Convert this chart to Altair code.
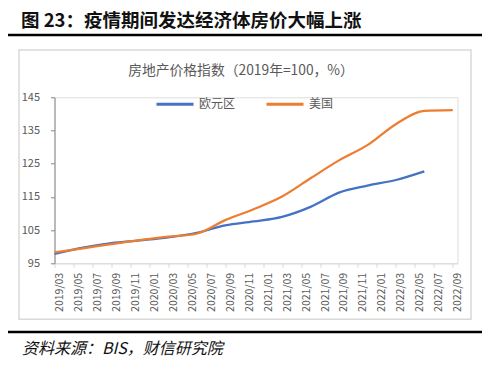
import altair as alt
import pandas as pd
import json

# ---- data (quarterly points, month index from 2019/03) ----
quarters = ["2019/03", "2019/06", "2019/09", "2019/12", "2020/03", "2020/06", "2020/09",
            "2020/12", "2021/03", "2021/06", "2021/09", "2021/12", "2022/03", "2022/06", "2022/09"]
euro = [97.8, 99.7, 101.1, 101.9, 102.8, 104.2, 106.4, 107.6, 109.0, 112.0, 116.3, 118.4, 120.1, 122.7]
usa = [98.3, 99.5, 100.8, 102.0, 103.0, 103.9, 108.0, 111.3, 115.1, 120.6, 126.0, 130.6, 136.9, 140.9, 141.1]
tick_labels = ["2019/03", "2019/05", "2019/07", "2019/09", "2019/11", "2020/01", "2020/03",
               "2020/05", "2020/07", "2020/09", "2020/11", "2021/01", "2021/03", "2021/05",
               "2021/07", "2021/09", "2021/11", "2022/01", "2022/03", "2022/05", "2022/07", "2022/09"]
series_names = ["欧元区", "美国"]
series_colors = ["#4472C4", "#ED7D31"]

def month_index(s):
    y, m = s.split("/")
    return (int(y) - 2019) * 12 + int(m) - 3

rows = []
for name, vals in zip(series_names, [euro, usa]):
    for q, v in zip(quarters, vals):
        rows.append({"series": name, "period": q, "m": month_index(q), "value": v})
df = pd.DataFrame(rows)

FONT = "Noto Sans CJK SC"
GRAY = "#595959"

label_expr = json.dumps(tick_labels) + "[round(datum.value / 2)]"

lines = alt.Chart(df).mark_line(strokeWidth=2.25, interpolate="monotone").encode(
    x=alt.X("m:Q", scale=alt.Scale(domain=[0, 42.5], nice=False, zero=False),
            axis=alt.Axis(title=None, values=list(range(0, 43, 2)), labelExpr=label_expr,
                          labelAngle=-90, labelFontSize=10.5, labelColor=GRAY, labelOffset=5,
                          labelPadding=5, tickSize=4, tickColor="#d9d9d9", domainColor="#d9d9d9",
                          grid=False, labelFont=FONT)),
    y=alt.Y("value:Q", scale=alt.Scale(domain=[95, 145], nice=False, zero=False),
            axis=alt.Axis(title=None, values=[95, 105, 115, 125, 135, 145], labelFontSize=11,
                          labelColor=GRAY, tickSize=4, tickColor="#868686", domainColor="#868686",
                          labelPadding=11, grid=False, labelFont=FONT)),
    color=alt.Color("series:N", scale=alt.Scale(domain=series_names, range=series_colors),
                    legend=alt.Legend(title=None, orient="none", direction="horizontal",
                                      legendX=100.5, legendY=-13, symbolType="stroke",
                                      symbolSize=1369, symbolStrokeWidth=3, labelOffset=4,
                                      columnPadding=24, labelFontSize=12, labelColor=GRAY,
                                      labelFont=FONT, padding=0)),
    detail="series:N",
)

box = alt.Chart(pd.DataFrame({"a": [0]})).mark_rect(fillOpacity=0, stroke="#d9d9d9", strokeWidth=1.5).encode(
    x=alt.value(-35.5), x2=alt.value(416.5), y=alt.value(-47.3), y2=alt.value(222))

rule_top = alt.Chart(pd.DataFrame({"a": [0]})).mark_rule(color="black", strokeWidth=2.5).encode(
    x=alt.value(-46.5), x2=alt.value(427.5), y=alt.value(-62.3))
rule_bot = alt.Chart(pd.DataFrame({"a": [0]})).mark_rule(color="black", strokeWidth=2.5).encode(
    x=alt.value(-46.5), x2=alt.value(427.5), y=alt.value(234.7))

title_txt = alt.Chart(pd.DataFrame({"t": ["图 23：疫情期间发达经济体房价大幅上涨"]})).mark_text(
    align="left", baseline="middle", fontSize=18.5, fontWeight="bold", font=FONT, color="#111111"
).encode(text="t:N", x=alt.value(-33.5), y=alt.value(-76.6))

inner_title = alt.Chart(pd.DataFrame({"t": ["房地产价格指数（2019年=100，%）"]})).mark_text(
    align="center", baseline="middle", fontSize=13.8, font=FONT, color=GRAY
).encode(text="t:N", x=alt.value(186.5), y=alt.value(-26.6))

footer = alt.Chart(pd.DataFrame({"t": ["资料来源：BIS，财信研究院"]})).mark_text(
    align="left", baseline="middle", fontSize=16, font=FONT, fontStyle="italic", color="#111111"
).encode(text="t:N", x=alt.value(-32.5), y=alt.value(251.7))

chart = alt.layer(box, rule_top, rule_bot, title_txt, inner_title, footer, lines).properties(
    width=403, height=166,
    autosize=alt.AutoSizeParams(type="none"),
    padding={"left": 46.5, "top": 89.3, "right": 34.5, "bottom": 94.7},
).configure_view(stroke=None).configure(background="white")

chart.save("out.html", embed_options={"renderer": "svg", "actions": False})
